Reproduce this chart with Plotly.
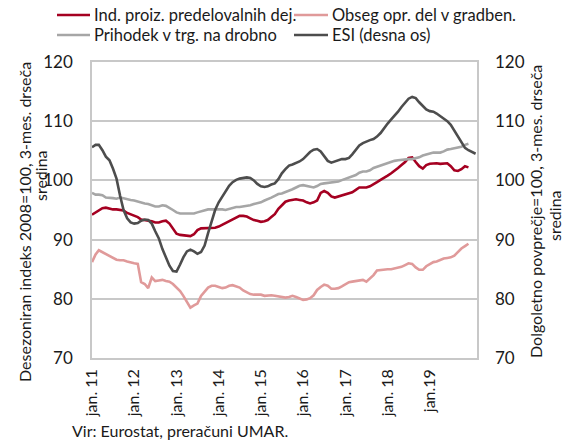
import plotly.graph_objects as go
import pandas as pd

# ---------------- data ----------------
start_month = "2011-01-01"
tick_labels = ["jan. 11", "jan. 12", "jan. 13", "jan. 14", "jan. 15",
               "jan. 16", "jan. 17", "jan. 18", "jan.19"]

ind_proiz = [
    94.2, 94.6, 95.0, 95.3, 95.4, 95.2, 95.1, 95.1, 95.0, 94.9, 94.5, 94.3,
    94.1, 93.8, 93.4, 93.3, 93.3, 93.1, 92.9, 92.9, 93.1, 93.2, 92.7, 91.8,
    91.0, 90.8, 90.7, 90.6, 90.6, 90.9, 91.6, 91.9, 91.9, 91.9, 91.9, 92.0,
    92.2, 92.5, 92.8, 93.1, 93.4, 93.6, 94.0, 94.0, 93.9, 93.6, 93.3, 93.2,
    93.0, 93.1, 93.3, 93.8, 94.3, 95.2, 95.8, 96.4, 96.6, 96.7, 96.8, 96.7,
    96.6, 96.3, 96.1, 96.3, 96.6, 97.9, 98.2, 97.9, 97.3, 97.1, 97.3, 97.4,
    97.6, 97.8, 98.0, 98.4, 98.8, 98.8, 98.8, 99.0, 99.3, 99.7, 100.1, 100.4,
    100.8, 101.2, 101.7, 102.1, 102.6, 103.1, 103.8, 103.9, 103.1, 102.4, 102.0, 102.6,
    102.8, 102.9, 102.9, 102.8, 102.9, 102.9, 102.4, 101.7, 101.6, 101.9, 102.4, 102.2,
]

obseg_gradb = [
    86.2, 87.5, 88.2, 87.9, 87.5, 87.2, 86.9, 86.6, 86.5, 86.5, 86.3, 86.1,
    86.0, 85.9, 82.8, 82.5, 81.8, 83.6, 83.0, 83.1, 83.2, 83.0, 82.9, 82.5,
    81.9, 81.3, 80.5, 79.4, 78.5, 78.9, 79.2, 80.5, 81.3, 81.9, 82.2, 82.2,
    82.0, 81.8, 81.9, 82.2, 82.3, 82.1, 81.9, 81.4, 81.1, 80.8, 80.7, 80.7,
    80.7, 80.5, 80.6, 80.6, 80.5, 80.4, 80.4, 80.2, 80.3, 80.5, 80.3, 80.0,
    79.8, 79.9, 80.1, 80.6, 81.5, 82.0, 82.4, 82.2, 81.7, 81.7, 81.8, 82.1,
    82.5, 82.8, 82.9, 83.0, 83.2, 83.2, 82.9, 83.4, 84.0, 84.8, 84.9, 85.0,
    85.0, 85.0, 85.1, 85.3, 85.4, 85.7, 86.0, 85.9, 85.3, 84.9, 84.9, 85.5,
    85.9, 86.2, 86.3, 86.6, 86.8, 86.9, 87.0, 87.3, 87.9, 88.5, 88.9, 89.3,
]

prihodek = [
    97.9, 97.6, 97.6, 97.5, 97.1, 97.1, 97.0, 96.9, 97.1, 97.0, 96.8, 96.7,
    96.6, 96.4, 96.2, 96.1, 96.0, 95.8, 95.6, 95.6, 95.8, 95.7, 95.4, 95.0,
    94.6, 94.4, 94.4, 94.4, 94.5, 94.4, 94.6, 94.8, 94.9, 95.1, 95.1, 95.1,
    95.2, 95.1, 95.0, 95.2, 95.3, 95.5, 95.5, 95.6, 95.6, 95.8, 96.0, 96.1,
    96.3, 96.6, 96.9, 97.1, 97.4, 97.7, 97.8, 98.0, 98.2, 98.5, 98.8, 99.1,
    99.2, 99.05, 98.9, 98.8, 99.05, 99.4, 99.5, 99.6, 99.6, 99.7, 99.8, 100.05,
    100.3, 100.5, 100.7, 100.9, 101.3, 101.5, 101.5, 101.7, 102.1, 102.3, 102.5, 102.8,
    103.0, 103.2, 103.3, 103.4, 103.5, 103.6, 103.6, 103.6, 103.7, 103.9, 104.2, 104.4,
    104.6, 104.7, 104.7, 104.7, 104.9, 105.2, 105.3, 105.4, 105.5, 105.7, 106.0, 106.2,
]

esi = [
    105.6, 106.0, 106.0, 105.1, 104.0, 103.4, 102.0, 100.3, 97.4, 95.0, 93.6, 92.9,
    92.7, 92.8, 93.2, 93.4, 93.3, 92.7, 91.4, 90.2, 88.4, 87.1, 85.6, 84.7,
    84.6, 85.8, 87.0, 88.0, 88.3, 88.0, 87.6, 87.9, 89.0, 91.1, 93.2, 95.0,
    96.3, 97.3, 98.2, 99.1, 99.7, 100.1, 100.3, 100.4, 100.5, 100.4, 100.0, 99.4,
    99.0, 98.9, 99.0, 99.3, 99.5, 100.2, 101.2, 101.9, 102.5, 102.7, 102.9, 103.2,
    103.6, 104.2, 104.8, 105.2, 105.3, 104.9, 104.0, 103.3, 103.0, 103.2, 103.5, 103.6,
    103.6, 103.8, 104.4, 105.2, 105.9, 106.3, 106.6, 106.8, 107.0, 107.4, 108.0, 108.9,
    109.6, 110.3, 110.9, 111.6, 112.4, 113.1, 113.8, 114.1, 113.9, 113.2, 112.5, 112.0,
    111.7, 111.6, 111.3, 110.9, 110.4, 110.0, 109.4, 108.4, 107.3, 106.3, 105.5, 105.1,
    104.8, 104.5,
]

series_names = ["Ind. proiz. predelovalnih dej.", "Obseg opr. del v gradben.",
                "Prihodek v trg. na drobno", "ESI (desna os)"]
series_colors = ["#A50021", "#E09A9A", "#A6A6A6", "#4D4D4D"]

months_main = pd.date_range(start_month, periods=len(ind_proiz), freq="MS")
months_esi = pd.date_range(start_month, periods=len(esi), freq="MS")
tick_vals = pd.date_range(start_month, periods=len(tick_labels), freq="12MS")

FONT = "Lato"
TXT = "#1a1a1a"
GRID = "#C8C8C8"

fig = go.Figure()
for vals, name, col, xs, ax in [
    (ind_proiz, series_names[0], series_colors[0], months_main, "y"),
    (obseg_gradb, series_names[1], series_colors[1], months_main, "y"),
    (prihodek, series_names[2], series_colors[2], months_main, "y"),
    (esi, series_names[3], series_colors[3], months_esi, "y2"),
]:
    fig.add_trace(go.Scatter(x=xs, y=vals, name=name, mode="lines",
                             line=dict(color=col, width=2.6), yaxis=ax,
                             showlegend=False))

# plot area pixel geometry
L, R, T, B = 92, 477, 62, 358
W, H = R - L, B - T
def px(x):
    return (x - L) / W
def py(y):
    return (B - y) / H

# manual legend
legend_items = [
    (series_names[0], series_colors[0], 57, 90, 92, 15),
    (series_names[1], series_colors[1], 294, 328, 330, 15),
    (series_names[2], series_colors[2], 57, 90, 92, 35),
    (series_names[3], series_colors[3], 294, 328, 330, 35),
]
shapes = []
annotations = []
for name, col, x0, x1, xt, yy in legend_items:
    shapes.append(dict(type="line", xref="paper", yref="paper",
                       x0=px(x0), x1=px(x1), y0=py(yy), y1=py(yy),
                       line=dict(color=col, width=2.6)))
    annotations.append(dict(text=name, xref="paper", yref="paper",
                            x=px(xt), y=py(yy), xanchor="left", yanchor="middle",
                            showarrow=False, font=dict(size=16.5, color=TXT, family=FONT)))

# axis titles
annotations += [
    dict(text="Desezoniran indeks 2008=100, 3-mes. drseča", textangle=-90,
         xref="paper", yref="paper", x=px(24), y=py(222), xanchor="center", yanchor="middle",
         showarrow=False, font=dict(size=16, color=TXT, family=FONT)),
    dict(text="sredina", textangle=-90,
         xref="paper", yref="paper", x=px(40), y=py(176), xanchor="center", yanchor="middle",
         showarrow=False, font=dict(size=16, color=TXT, family=FONT)),
    dict(text="Dolgoletno povprečje=100, 3-mes. drseča", textangle=-90,
         xref="paper", yref="paper", x=px(535), y=py(212), xanchor="center", yanchor="middle",
         showarrow=False, font=dict(size=16, color=TXT, family=FONT)),
    dict(text="sredina", textangle=-90,
         xref="paper", yref="paper", x=px(554), y=py(216), xanchor="center", yanchor="middle",
         showarrow=False, font=dict(size=16, color=TXT, family=FONT)),
    dict(text="Vir: Eurostat, preračuni UMAR.",
         xref="paper", yref="paper", x=px(70), y=py(430), xanchor="left", yanchor="middle",
         showarrow=False, font=dict(size=16, color=TXT, family=FONT)),
]

fig.update_layout(
    width=564, height=442,
    margin=dict(l=L, r=564 - R, t=T, b=442 - B, pad=0),
    paper_bgcolor="white", plot_bgcolor="white",
    font=dict(family=FONT, size=16, color=TXT),
    shapes=shapes, annotations=annotations,
    xaxis=dict(
        range=["2011-01-01", "2020-02-13"],
        tickvals=tick_vals, ticktext=tick_labels, tickangle=-90,
        showgrid=False, showline=True, linecolor=GRID, linewidth=1.5, mirror=True,
        ticks="", tickfont=dict(size=16, family=FONT, color=TXT),
        ticklabelstandoff=3, zeroline=False, automargin=False,
    ),
    yaxis=dict(
        range=[70, 120], dtick=10, tick0=70,
        showgrid=True, gridcolor=GRID, gridwidth=1.5,
        showline=True, linecolor=GRID, linewidth=1.5, mirror=True,
        ticks="", tickfont=dict(size=17, family=FONT, color=TXT),
        ticklabelstandoff=14, zeroline=False, automargin=False,
    ),
    yaxis2=dict(
        range=[70, 120], dtick=10, tick0=70, overlaying="y", side="right",
        showgrid=False, showline=False, ticks="",
        tickfont=dict(size=17, family=FONT, color=TXT),
        ticklabelstandoff=17, zeroline=False, automargin=False,
    ),
)

fig.write_html("out.html", config={"displayModeBar": False},
               post_script="document.body.style.margin='0';document.body.style.overflow='hidden';")
